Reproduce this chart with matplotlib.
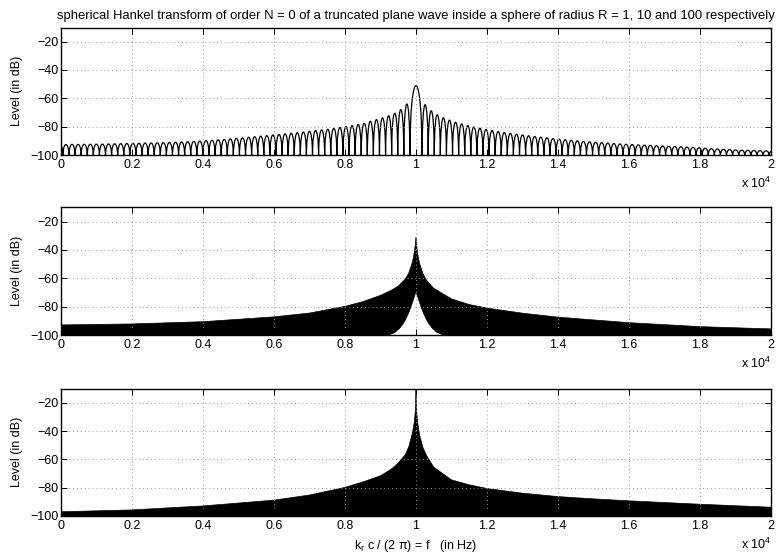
import matplotlib.pyplot as plt
from matplotlib.path import Path
from matplotlib.patches import PathPatch

plt.rcParams['font.family'] = ['Liberation Sans', 'DejaVu Sans']
plt.rcParams['mathtext.default'] = 'regular'

title = ('spherical Hankel transform of order N = 0 of a truncated plane wave '
         'inside a sphere of radius R = 1, 10 and 100 respectively')
x_label = r'k$_r$ c / (2 π) = f   (in Hz)'
y_label = 'Level (in dB)'

x_ticks = [0, 2000, 4000, 6000, 8000, 10000, 12000, 14000, 16000, 18000, 20000]
x_tick_labels = ['0', '0.2', '0.4', '0.6', '0.8', '1', '1.2', '1.4', '1.6', '1.8', '2']
y_ticks = [-100, -80, -60, -40, -20]
y_tick_labels = ['\u2212100', '\u221280', '\u221260', '\u221240', '\u221220']

# R = 1 : lobes between nulls, one peak level per lobe
f0 = 10000
lobe_hz = 171.5
main_peak_r1 = -51.0
left_peaks_r1 = [-64.0, -68.0, -70.5, -72.3, -73.8, -75.0, -76.2, -77.6, -78.5, -79.3,
                 -80.0, -80.6, -81.2, -81.8, -82.3, -82.8, -83.3, -83.8, -84.3, -84.7,
                 -85.1, -85.5, -85.9, -86.3, -86.7, -87.1, -87.5, -87.9, -88.3, -88.6,
                 -89.0, -89.3, -89.6, -89.9, -90.2, -90.4, -90.6, -90.8, -91.0, -91.2,
                 -91.3, -91.4, -91.5, -91.6, -91.7, -91.8, -91.9, -92.0, -92.1, -92.2,
                 -92.3, -92.3, -92.4, -92.4, -92.5, -92.5, -92.6, -92.6]
right_peaks_r1 = [-64.5, -68.8, -71.6, -73.7, -75.4, -76.9, -78.1, -79.2, -80.2, -81.1,
                  -82.0, -82.8, -83.5, -84.2, -84.8, -85.4, -85.9, -86.4, -86.9, -87.4,
                  -87.9, -88.4, -88.8, -89.2, -89.6, -90.0, -90.4, -90.7, -91.0, -91.3,
                  -91.6, -91.9, -92.2, -92.4, -92.6, -92.8, -93.0, -93.2, -93.4, -93.6,
                  -93.8, -94.0, -94.2, -94.4, -94.6, -94.9, -95.2, -95.5, -95.8, -96.0,
                  -96.2, -96.4, -96.6, -96.7, -96.8, -96.9, -97.0, -97.0]

# R = 10 : lobes too dense to see, plotted as upper / lower envelope
r10_upper_f = [0, 2000, 4000, 6000, 7000, 8000, 8500, 9000, 9300, 9500, 9700, 9800,
               9900, 9950, 9980, 10000, 10020, 10050, 10100, 10200, 10300, 10500,
               11000, 11500, 12000, 13000, 14000, 16000, 18000, 20000]
r10_upper_db = [-92.9, -92.2, -90.6, -87.2, -84.5, -79.8, -76.5, -72.0, -68.5, -65.5,
                -60.5, -56.0, -48.5, -42.0, -36.5, -30.7, -37.0, -43.0, -49.5, -57.0,
                -61.5, -67.0, -74.5, -78.5, -81.0, -84.6, -87.4, -91.3, -94.1, -95.7]
r10_lower_f = [0, 9230, 9400, 9531, 9640, 9718, 9800, 9859, 9920, 9960, 10000,
               10040, 10080, 10141, 10200, 10282, 10360, 10469, 10600, 10770, 20000]
r10_lower_db = [-100, -100, -98.3, -95.5, -92.0, -88.5, -84.0, -80.0, -75.5, -72.5, -69.3,
                -72.5, -75.5, -80.0, -84.0, -88.5, -92.0, -95.5, -98.3, -100, -100]

# R = 100
r100_upper_f = [0, 2000, 4000, 6000, 7000, 8000, 8500, 9000, 9300, 9500, 9700, 9800,
                9900, 9950, 9980, 9995, 10000, 10005, 10020, 10050, 10100, 10200,
                10300, 10500, 11000, 11500, 12000, 13000, 14000, 15000, 16000, 18000, 20000]
r100_upper_db = [-97.0, -95.7, -92.9, -88.8, -85.2, -79.8, -76.0, -71.6, -67.0, -62.6,
                 -56.7, -50.8, -41.3, -34.0, -26.0, -16.0, -5.0, -16.0, -26.5, -34.5,
                 -42.6, -52.0, -57.5, -65.5, -74.5, -78.0, -80.6, -83.9, -86.3, -87.9,
                 -89.3, -91.7, -93.8]

W, H = 779, 559
fig = plt.figure(figsize=(W / 100, H / 100), dpi=100)
left, width, height = 61 / W, 710 / W, 127.5 / H
axes = [fig.add_axes([left, 1 - bottom_px / H, width, height]) for bottom_px in (155, 335, 516)]


def lobes(edges, peaks, floor=-101):
    verts, codes = [], []
    for (a, b), p in zip(edges, peaks):
        h = floor + (p - floor) / 0.75
        verts += [(a, floor), (a, h), (b, h), (b, floor)]
        codes += [Path.MOVETO, Path.CURVE4, Path.CURVE4, Path.CURVE4]
    return Path(verts, codes)


edges = []
peaks = []
for n in range(len(left_peaks_r1), 0, -1):
    edges.append((f0 - (n + 1) * lobe_hz, f0 - n * lobe_hz))
    peaks.append(left_peaks_r1[n - 1])
edges.append((f0 - lobe_hz, f0 + lobe_hz))
peaks.append(main_peak_r1)
for n in range(1, len(right_peaks_r1) + 1):
    edges.append((f0 + n * lobe_hz, f0 + (n + 1) * lobe_hz))
    peaks.append(right_peaks_r1[n - 1])

ax = axes[0]
ax.add_patch(PathPatch(lobes(edges, peaks), facecolor='none', edgecolor='black', lw=0.9))

ax = axes[1]
ax.fill(r10_upper_f + r10_lower_f[::-1], r10_upper_db + r10_lower_db[::-1],
        color='black', lw=0.5)

ax = axes[2]
ax.fill(r100_upper_f + [20000, 0], r100_upper_db + [-100, -100], color='black', lw=0.5)

for ax in axes:
    ax.set_xlim(0, 20000)
    ax.set_ylim(-100, -10)
    ax.set_xticks(x_ticks)
    ax.set_xticklabels(x_tick_labels)
    ax.set_yticks(y_ticks)
    ax.set_yticklabels(y_tick_labels)
    ax.tick_params(direction='in', top=True, right=True, length=4, width=0.7,
                   labelsize=9, pad=3)
    ax.tick_params(axis='y', pad=2)
    ax.grid(True, color='#999999', linestyle=(0, (1, 3)), lw=0.7)
    for s in ax.spines.values():
        s.set_linewidth(1.0)
    ax.set_ylabel(y_label, fontsize=9)
    ax.yaxis.set_label_coords(-0.054, 0.5)
    ax.annotate(r'x 10$^{4}$', xy=(1, 0), xycoords='axes fraction', xytext=(0, -33),
                textcoords='offset pixels', ha='right', va='baseline', fontsize=9)

axes[0].set_title(title, fontsize=9.4, pad=6)
axes[2].set_xlabel(x_label, fontsize=9, labelpad=4)

fig.savefig('out.png', dpi=100)
